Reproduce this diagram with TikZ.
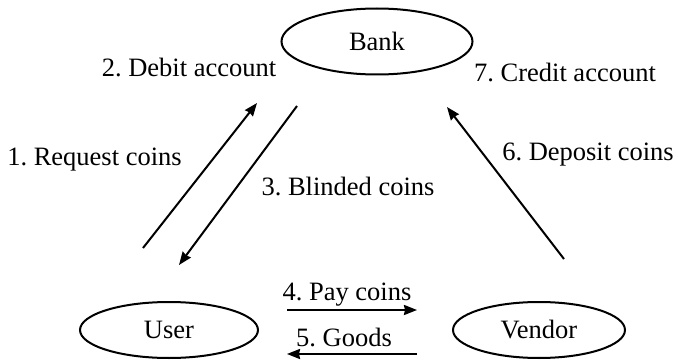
\documentclass[tikz,border=0pt]{standalone}
\usepackage{fontspec}
\setmainfont{Liberation Serif}
\frenchspacing
\usetikzlibrary{shapes.geometric,arrows.meta}
\begin{document}
\begin{tikzpicture}[x=1pt,y=-1pt,
  party/.style={ellipse,draw,line width=2pt,inner sep=0pt,font=\fontsize{26.5}{30}\selectfont},
  lbl/.style={inner sep=0pt,anchor=base,font=\fontsize{26.5}{30}\selectfont},
  flow/.style={line width=2pt,-{Stealth[length=13pt,width=10pt,inset=1pt]}}]
\useasboundingbox (0,0) rectangle (678,361);
% parties
\node[party,minimum width=191pt,minimum height=66pt] (bank) at (377,41.5) {Bank};
\node[party,minimum width=178pt,minimum height=56pt] (user) at (169,330) {User};
\node[party,minimum width=172pt,minimum height=56pt] (vendor) at (539,330) {Vendor};
% endpoints of the message arrows
\coordinate (reqA) at (143,248);
\coordinate (reqB) at (257,103);
\coordinate (blA) at (297,106);
\coordinate (blB) at (179,265);
\coordinate (depA) at (564,259);
\coordinate (depB) at (447,107);
\coordinate (payA) at (287,310);
\coordinate (payB) at (417,310);
\coordinate (gdA) at (417,354);
\coordinate (gdB) at (287,354);
% messages
\draw[flow] (reqA) -- (reqB);
\draw[flow] (blA) -- (blB);
\draw[flow] (depA) -- (depB);
\draw[flow] (payA) -- (payB);
\draw[flow] (gdA) -- (gdB);
% labels
\node[lbl] (debit) at (189,77) {2. Debit account};
\node[lbl] (credit) at (565,82) {7. Credit account};
\node[lbl] (request) at (94.5,165) {1. Request coins};
\node[lbl] (blind) at (348,195) {3. Blinded coins};
\node[lbl] (deposit) at (588,160) {6. Deposit coins};
\node[lbl] (pay) at (347,300) {4. Pay coins};
\node[lbl] (goods) at (344,346) {5. Goods};
\end{tikzpicture}
\end{document}
